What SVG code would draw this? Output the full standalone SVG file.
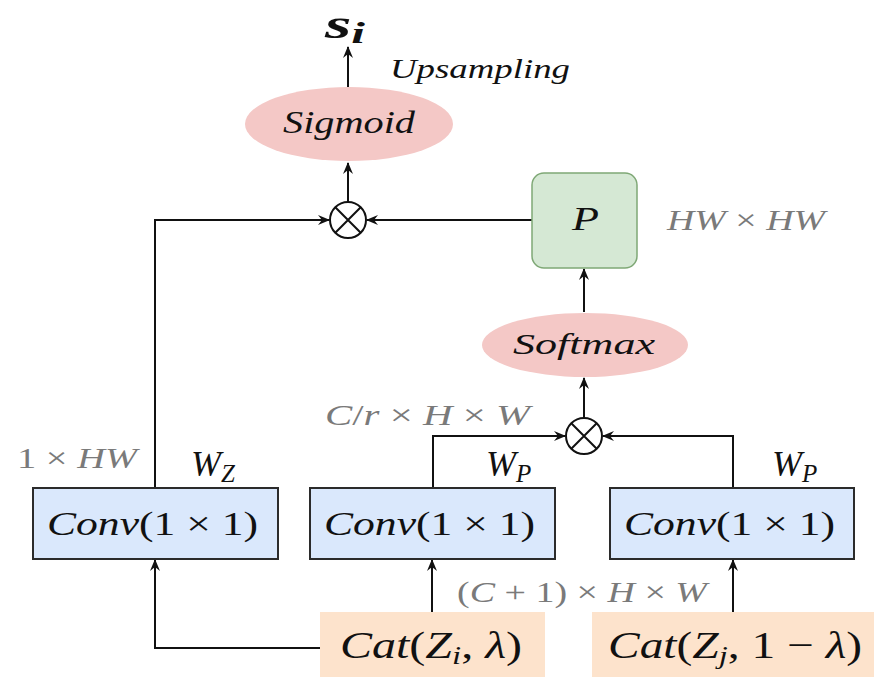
<svg xmlns="http://www.w3.org/2000/svg" width="874" height="677" viewBox="0 0 874 677">
<style>
text{font-style:italic;fill:#111}
.dim{fill:#7a7a7a}
.rm{font-style:normal}
.conv{fill:#dae8fc;stroke:#2b2b2b;stroke-width:2}
.cat{fill:#fde3cc;stroke:none}
.ell{fill:#f4c8c6;stroke:none}
.pbox{fill:#d5e8d4;stroke:#7fa876;stroke-width:1.5}
.c{fill:none;stroke:#111;stroke-width:2}
.op{fill:#fff;stroke:#111;stroke-width:2}
</style>
<defs>
<marker id="ah" viewBox="0 0 12 10" refX="11" refY="5" markerWidth="12" markerHeight="10" markerUnits="userSpaceOnUse" orient="auto">
<path d="M0,0 L12,5 L0,10 L4,5 z" fill="#111"/>
</marker>
</defs>
<rect width="874" height="677" fill="#fff"/>

<g id="connectors">
<path class="c" d="M155,488 V220 H329" marker-end="url(#ah)"/>
<path class="c" d="M532,220 H367" marker-end="url(#ah)"/>
<path class="c" d="M348,202 V163" marker-end="url(#ah)"/>
<path class="c" d="M348,87 V47" marker-end="url(#ah)"/>
<path class="c" d="M584,312 V269" marker-end="url(#ah)"/>
<path class="c" d="M584,418 V378" marker-end="url(#ah)"/>
<path class="c" d="M433,488 V436 H565" marker-end="url(#ah)"/>
<path class="c" d="M733,488 V436 H603" marker-end="url(#ah)"/>
<path class="c" d="M320,648 H155 V560" marker-end="url(#ah)"/>
<path class="c" d="M432,612 V560" marker-end="url(#ah)"/>
<path class="c" d="M733,612 V560" marker-end="url(#ah)"/>
</g>

<g font-family="Liberation Serif, Times New Roman, DejaVu Serif, serif">
<g id="output">
<text x="325" y="38" font-size="40" font-weight="bold" textLength="40" lengthAdjust="spacingAndGlyphs">s<tspan font-size="29" dy="5">i</tspan></text>
<text x="390" y="78" font-size="27" textLength="180" lengthAdjust="spacingAndGlyphs">Upsampling</text>
</g>

<g id="sigmoid">
<ellipse class="ell" cx="349" cy="124" rx="104" ry="37"/>
<text x="283" y="133" font-size="31" textLength="132" lengthAdjust="spacingAndGlyphs">Sigmoid</text>
</g>

<g id="mult1">
<circle class="op" cx="348" cy="220" r="18"/>
<path class="c" d="M335.3,207.3 L360.7,232.7 M360.7,207.3 L335.3,232.7"/>
</g>

<g id="P">
<rect class="pbox" x="532" y="173" width="105" height="95" rx="12"/>
<text x="572" y="230" font-size="34" textLength="27" lengthAdjust="spacingAndGlyphs">P</text>
<text class="dim" x="667" y="230" font-size="30" textLength="158" lengthAdjust="spacingAndGlyphs">HW <tspan class="rm">×</tspan> HW</text>
</g>

<g id="softmax">
<ellipse class="ell" cx="585" cy="345" rx="103" ry="32"/>
<text x="513" y="354" font-size="30" textLength="142" lengthAdjust="spacingAndGlyphs">Softmax</text>
</g>

<g id="mult2">
<circle class="op" cx="584" cy="436" r="18"/>
<path class="c" d="M571.3,423.3 L596.7,448.7 M596.7,423.3 L571.3,448.7"/>
<text class="dim" x="325" y="425" font-size="30" textLength="205" lengthAdjust="spacingAndGlyphs">C<tspan class="rm">/</tspan>r <tspan class="rm">×</tspan> H <tspan class="rm">×</tspan> W</text>
</g>

<g id="convZ">
<rect class="conv" x="33" y="488" width="245" height="71"/>
<text x="47" y="535" font-size="34" textLength="211" lengthAdjust="spacingAndGlyphs">Conv<tspan class="rm">(1 × 1)</tspan></text>
<text class="dim" x="17" y="468" font-size="29" textLength="120" lengthAdjust="spacingAndGlyphs"><tspan class="rm">1 ×</tspan> HW</text>
<text x="191" y="476" font-size="36">W<tspan font-size="25" dy="6">Z</tspan></text>
</g>

<g id="convP1">
<rect class="conv" x="310" y="488" width="245" height="71"/>
<text x="324" y="535" font-size="34" textLength="211" lengthAdjust="spacingAndGlyphs">Conv<tspan class="rm">(1 × 1)</tspan></text>
<text x="486" y="476" font-size="36">W<tspan font-size="25" dy="6">P</tspan></text>
</g>

<g id="convP2">
<rect class="conv" x="610" y="488" width="244" height="71"/>
<text x="624" y="535" font-size="34" textLength="211" lengthAdjust="spacingAndGlyphs">Conv<tspan class="rm">(1 × 1)</tspan></text>
<text x="772" y="476" font-size="36">W<tspan font-size="25" dy="6">P</tspan></text>
</g>

<g id="cat1">
<rect class="cat" x="320" y="612" width="225" height="65"/>
<text x="340" y="658" font-size="38" textLength="182" lengthAdjust="spacingAndGlyphs">Cat<tspan class="rm">(</tspan>Z<tspan font-size="26" dy="6">i</tspan><tspan dy="-6" class="rm">, </tspan>λ<tspan class="rm">)</tspan></text>
<text class="dim" x="457" y="602" font-size="29" textLength="250" lengthAdjust="spacingAndGlyphs"><tspan class="rm">(</tspan>C <tspan class="rm">+ 1) ×</tspan> H <tspan class="rm">×</tspan> W</text>
</g>

<g id="cat2">
<rect class="cat" x="592" y="612" width="282" height="65"/>
<text x="608" y="658" font-size="38" textLength="254" lengthAdjust="spacingAndGlyphs">Cat<tspan class="rm">(</tspan>Z<tspan font-size="26" dy="6">j</tspan><tspan dy="-6" class="rm">, 1 − </tspan>λ<tspan class="rm">)</tspan></text>
</g>
</g>
</svg>
